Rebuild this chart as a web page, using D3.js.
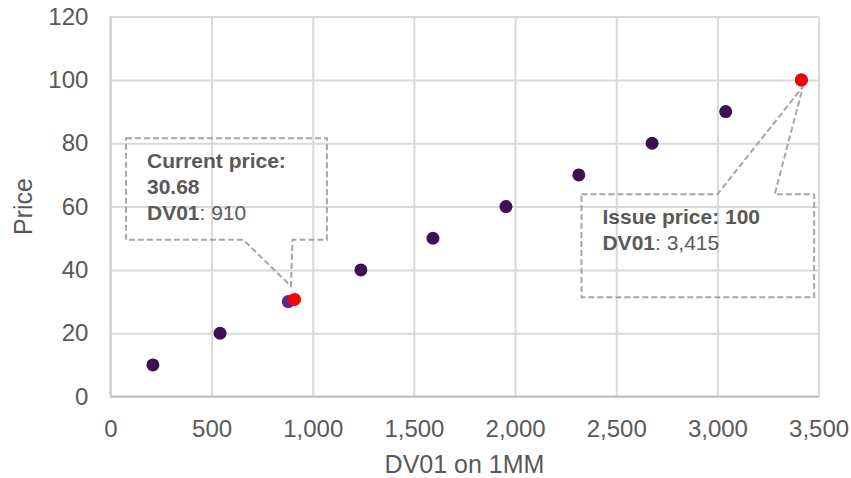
<!DOCTYPE html>
<html lang="en">
<head>
    <meta charset="UTF-8">
    <title>Price vs DV01</title>
    <script src="https://d3js.org/d3.v7.min.js"></script>
    <style>
        body { margin: 0; background: white; }
        text {
            font-family: 'Liberation Sans', Arial, sans-serif;
            fill: #595959;
        }
        .tick text { font-size: 24px; }
        .title { font-size: 25px; }
        .callout text { font-size: 21px; }
    </style>
</head>
<body>
<script>

    const width = 851;
    const height = 478;
    const margin = {top: 16.6, right: 32.4, bottom: 81.4, left: 110.4};

    // bond curve: DV01 on 1MM vs price
    const dv01 = [210, 542, 879, 1238, 1594, 1955, 2315, 2677, 3041, 3415];
    const price = [10, 20, 30, 40, 50, 60, 70, 80, 90, 100];

    // highlighted points (current and issue)
    const markDv01 = [910, 3415];
    const markPrice = [30.68, 100];

    const xTicks = [0, 500, 1000, 1500, 2000, 2500, 3000, 3500];
    const yTicks = [0, 20, 40, 60, 80, 100, 120];

    // callout boxes in data units: [x0, x1, yTop, yBottom], pointer base on an edge
    const callouts = [
        {box: [77, 1070, 81.6, 49.5], base: [657, 900], edge: 'bottom', tip: [892, 34.9],
            lines: [[['Current price:', true]], [['30.68', true]], [['DV01', true], [': 910', false]]]},
        {box: [2328, 3478, 63.9, 31.4], base: [3000, 3283], edge: 'top', tip: [3423, 97.9],
            lines: [[['Issue price: 100', true]], [['DV01', true], [': 3,415', false]]]}
    ];

    const x = d3.scaleLinear().domain([0, 3500]).range([margin.left, width - margin.right]);
    const y = d3.scaleLinear().domain([0, 120]).range([height - margin.bottom, margin.top]);

    const svg = d3.select("body").append("svg").attr("width", width).attr("height", height);

    // grid
    const xAxis = d3.axisBottom(x).tickValues(xTicks).tickFormat(d3.format(",")).tickSize(-(y(0) - y(120)));
    const yAxis = d3.axisLeft(y).tickValues(yTicks).tickSize(-(x(3500) - x(0))).tickPadding(22);

    svg.append("g").attr("transform", `translate(0,${y(0)})`).call(xAxis)
        .call(g => g.select(".domain").remove())
        .call(g => g.selectAll(".tick line").attr("stroke", "#d9d9d9").attr("stroke-width", 2))
        .call(g => g.selectAll(".tick text").attr("y", 40).attr("dy", 0));

    svg.append("g").attr("transform", `translate(${x(0)},0)`).call(yAxis)
        .call(g => g.select(".domain").remove())
        .call(g => g.selectAll(".tick line").attr("stroke", "#d9d9d9").attr("stroke-width", 2));

    svg.selectAll(".tick text").attr("fill", "#595959").style("font-family", "'Liberation Sans', Arial, sans-serif");

    svg.append("line").attr("x1", x(0)).attr("x2", x(3500)).attr("y1", y(0)).attr("y2", y(0))
        .attr("stroke", "#bfbfbf").attr("stroke-width", 2);
    svg.append("line").attr("x1", x(0)).attr("x2", x(0)).attr("y1", y(0)).attr("y2", y(120))
        .attr("stroke", "#d0d0d0").attr("stroke-width", 2);

    // axis titles
    svg.append("text").attr("class", "title")
        .attr("x", (x(0) + x(3500)) / 2).attr("y", 473)
        .attr("text-anchor", "middle").text("DV01 on 1MM");
    svg.append("text").attr("class", "title")
        .attr("transform", `translate(32,${(y(0) + y(120)) / 2}) rotate(-90)`)
        .attr("text-anchor", "middle").text("Price");

    // callouts
    const co = svg.selectAll("g.callout").data(callouts).enter().append("g").attr("class", "callout");

    co.append("path")
        .attr("d", d => {
            const [x0, x1, yt, yb] = d.box.map((v, i) => i < 2 ? x(v) : y(v));
            const [b0, b1] = d.base.map(x);
            const t = [x(d.tip[0]), y(d.tip[1])];
            if (d.edge === 'bottom') {
                return `M${x0},${yt}L${x1},${yt}L${x1},${yb}L${b1},${yb}L${t}L${b0},${yb}L${x0},${yb}Z`;
            }
            return `M${x0},${yt}L${b0},${yt}L${t}L${b1},${yt}L${x1},${yt}L${x1},${yb}L${x0},${yb}Z`;
        })
        .attr("fill", "none")
        .attr("stroke", "#a6a6a6")
        .attr("stroke-width", 2)
        .attr("stroke-dasharray", "6,3");

    co.each(function (d) {
        const g = d3.select(this);
        const x0 = x(d.box[0]) + 21;
        const y0 = y(d.box[2]) + 30;
        d.lines.forEach((line, i) => {
            const t = g.append("text").attr("x", x0).attr("y", y0 + i * 25.8);
            line.forEach(([s, bold]) => t.append("tspan").attr("font-weight", bold ? "bold" : "normal").text(s));
        });
    });

    // points; the curve point sitting under the current-price mark is drawn lighter
    const nearMark = v => v !== markDv01[1] && markDv01.some(m => Math.abs(m - v) < 60);

    svg.append("g").selectAll("circle")
        .data(dv01.map((v, i) => [v, price[i]]))
        .enter().append("circle")
        .attr("cx", d => x(d[0])).attr("cy", d => y(d[1]))
        .attr("r", 6.5).attr("fill", d => nearMark(d[0]) ? "#5a2a8a" : "#3c1053");

    svg.append("g").selectAll("circle")
        .data(markDv01.map((v, i) => [v, markPrice[i]]))
        .enter().append("circle")
        .attr("cx", d => x(d[0])).attr("cy", d => y(d[1]))
        .attr("r", 6.5).attr("fill", "#ff0000");

</script>

</body>
</html>
